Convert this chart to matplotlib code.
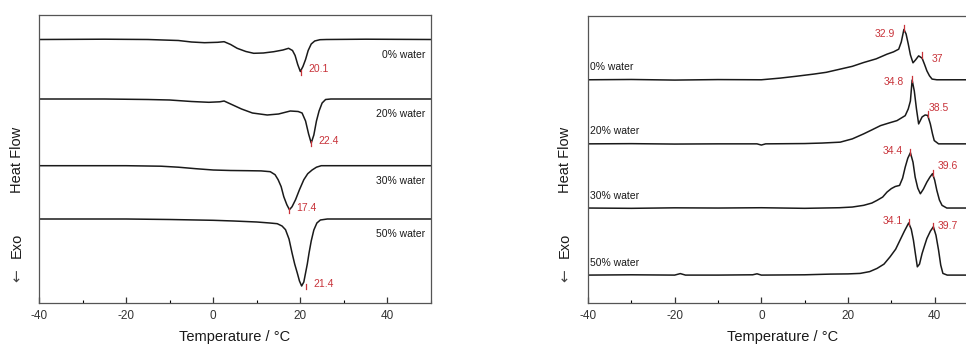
import matplotlib.pyplot as plt
from matplotlib.ticker import MultipleLocator

plt.rcParams['font.family'] = ['Liberation Sans', 'DejaVu Sans']
plt.rcParams['axes.unicode_minus'] = False

# ---- data (heat-flow traces, offsets from each trace's baseline) ----
labels = ["0% water", "20% water", "30% water", "50% water"]

# left panel: cooling, exothermic dips
L0_x = [-40, -25, -15, -8, -5, -2, 1, 2.5, 4, 5.5, 7.5, 9.3, 11.5, 13.9, 16, 17.3, 18.2, 18.8, 19.4, 20.0,
        20.6, 21.2, 21.8, 22.5, 23.3, 24.5, 26, 35, 50]
L0_y = [0, 0.3, 0, -1, -2.5, -3.2, -2.8, -2.2, -5, -8.8, -12, -13.8, -13.5, -12.2, -10.5, -8.8, -11, -16, -25, -32,
        -27, -20, -11, -4.5, -1.5, -0.2, 0, 0.3, 0]
L1_x = [-40, -25, -15, -10, -5, -1, 1.5, 2.5, 4.5, 6.5, 9, 12.4, 15, 17.7, 19.5, 20.4, 21.2, 21.9, 22.5, 23.1,
        23.7, 24.3, 25.0, 25.8, 27, 50]
L1_y = [0, 0, -0.5, -1, -2.5, -3.3, -2.8, -2, -6, -10, -14, -16, -15, -12, -12.5, -14, -22, -35, -44, -36,
        -22, -12, -4, -0.5, 0, 0]
L2_x = [-40, -20, -12, -8, -4, 0, 4, 8, 11, 13.1, 14.2, 14.9, 15.6, 16.2, 16.9, 17.5, 18.1, 18.9, 19.8, 20.8,
        21.7, 22.7, 23.7, 24.8, 50]
L2_y = [0, 0, -0.5, -1.5, -3, -4.3, -4.8, -5, -5.2, -6, -9, -14, -21, -31, -39, -44, -41, -34, -24, -14,
        -8, -4.3, -1.5, 0, 0]
L3_x = [-40, -20, -10, 0, 4.7, 10, 13, 14.7, 15.8, 16.6, 17.4, 18.1, 18.7, 19.3, 19.8, 20.3, 20.8, 21.2, 21.6,
        22.0, 22.5, 23.1, 23.8, 24.6, 26.2, 50]
L3_y = [0, 0, -0.5, -1.3, -2, -3, -4, -4.7, -7, -10.7, -20, -34, -45, -54, -62, -67, -63, -54, -45,
        -34, -22, -11, -4, -1, 0, 0]

# right panel: heating, endothermic peaks
R0_x = [-40, -30, -20, -10, 0, 4.4, 8, 12.1, 15, 18.2, 21, 23.6, 26.5, 29, 30.5, 31.7, 32.3, 32.9, 33.4, 33.9,
        34.4, 35.0, 35.6, 36.3, 37.1, 37.7, 38.2, 38.8, 39.4, 40.5, 50]
R0_y = [0, 0.3, -0.3, 0.2, 0, 1.7, 3.5, 5.7, 7.5, 10.7, 13.5, 17.3, 21, 25.7, 28, 30.7, 38, 50.5, 46, 36,
        25, 17, 20, 24, 21.7, 15, 9, 4, 0.7, 0, 0]
R1_x = [-40, -30, -20, -10, -1, 0, 1, 10, 14, 18.2, 21, 23.6, 25.5, 27.5, 29.5, 31.3, 33.2, 33.9, 34.4, 34.8,
        35.3, 35.8, 36.3, 37.1, 37.8, 38.4, 39.0, 39.5, 39.9, 40.9, 50]
R1_y = [0, 0.2, -0.2, 0, 0, -1.2, 0, 0.3, 0.8, 1.7, 5, 10, 14, 18.3, 21, 23.3, 28.3, 35, 43, 64,
        53, 35, 20, 27, 29, 28.5, 20, 10, 3.3, 0, 0]
R2_x = [-40, -30, -20, -10, 0, 10, 18, 21, 23.6, 25.5, 26.7, 28, 29, 30, 30.9, 31.9, 32.6, 33.2, 33.8, 34.4,
        35.0, 35.5, 36.1, 36.7, 37.4, 38.2, 38.9, 39.5, 40.0, 40.5, 41.1, 41.7, 42.8, 50]
R2_y = [0, -0.3, 0.2, 0, 0.3, -0.3, 0.3, 1, 2.7, 5, 7.7, 11, 16, 19.5, 21.6, 22.7, 30, 41, 50, 55.5,
        46, 31, 20, 14.3, 19, 26, 31, 34.5, 28, 17.7, 8, 2.7, 0, 0]
R3_x = [-40, -30, -20, -18.7, -17.5, -10, -2, -1, 0, 10, 16, 20, 22.8, 25, 26.7, 28.3, 29.7, 31, 32, 33, 34.0,
        34.6, 35.1, 35.6, 36.0, 36.5, 37.1, 37.7, 38.2, 39.0, 39.7, 40.3, 40.9, 41.4, 41.9, 42.9, 50]
R3_y = [0, 0.3, 0, 1.5, 0, 0, 0.3, 1.3, 0, 0.3, 1, 1.2, 1.7, 3.5, 6.7, 11, 18.3, 26, 35, 44, 52.3,
        46, 35, 20, 8.3, 11, 21.7, 30, 36.7, 44, 48.5, 40, 25, 10, 1.7, 0, 0]

left_x = [L0_x, L1_x, L2_x, L3_x]
left_y = [L0_y, L1_y, L2_y, L3_y]
right_x = [R0_x, R1_x, R2_x, R3_x]
right_y = [R0_y, R1_y, R2_y, R3_y]

left_peaks = [20.1, 22.4, 17.4, 21.4]
left_peak_depth = [-32, -44, -44, -67]
right_peaks = [[32.9, 37], [34.8, 38.5], [34.4, 39.6], [34.1, 39.7]]
right_peak_h = [[50.5, 24], [64, 29], [55.5, 34.5], [52.3, 48.5]]

left_base = [263.5, 204, 137.3, 84]
right_base = [224, 159.7, 95.3, 28]

red = '#c8333a'
ink = '#1a1a1a'

fig = plt.figure(figsize=(9.66, 3.45), dpi=100)
axL = fig.add_axes([39 / 966, 42 / 345, 392 / 966, 288 / 345])
axR = fig.add_axes([588 / 966, 42 / 345, 390 / 966, 287 / 345])

for ax in (axL, axR):
    ax.set_xlim(-40, 50)
    ax.set_ylim(0, 288)
    ax.set_yticks([])
    ax.xaxis.set_major_locator(MultipleLocator(20))
    ax.xaxis.set_minor_locator(MultipleLocator(10))
    ax.tick_params(axis='x', which='major', direction='in', length=4, width=0.9,
                   pad=5, labelsize=8.5, colors='#333333')
    ax.tick_params(axis='x', which='minor', direction='in', length=2.5, width=0.8)
    for s in ax.spines.values():
        s.set_color('#555555')
        s.set_linewidth(0.9)
    ax.set_xlabel('Temperature / °C', fontsize=10.5, color=ink, labelpad=6)

# left panel
for i in range(4):
    b = left_base[i]
    axL.plot(left_x[i], [b + v for v in left_y[i]], color=ink, lw=1.1)
    px, py = left_peaks[i], b + left_peak_depth[i]
    axL.plot([px, px], [py - 3, py + 2], color=red, lw=0.9)
    axL.text(px + 1.7, py + 2, f"{left_peaks[i]}", color=red, fontsize=7.5, va='center', ha='left')
    axL.text(48.7, b - 15, labels[i], color=ink, fontsize=7.5, ha='right', va='center')

# right panel
for i in range(4):
    b = right_base[i]
    axR.plot(right_x[i], [b + v for v in right_y[i]], color=ink, lw=1.1)
    for j in range(2):
        px, py = right_peaks[i][j], b + right_peak_h[i][j]
        axR.plot([px, px], [py - 2, py + 4], color=red, lw=0.9)
    axR.text(-39.5, b + 12.5, labels[i], color=ink, fontsize=7.5, ha='left', va='center')

r_text = [[(30.9, 270.3, 'right'), (39.2, 245, 'left')],
          [(33.0, 221.3, 'right'), (38.5, 195.7, 'left')],
          [(32.7, 153, 'right'), (40.6, 137, 'left')],
          [(32.7, 82, 'right'), (40.8, 77, 'left')]]
for i in range(4):
    for j in range(2):
        tx, ty, ha = r_text[i][j]
        val = right_peaks[i][j]
        axR.text(tx, ty, f"{val:g}", color=red, fontsize=7.5, ha=ha, va='center')

# y labels (two pieces, as in the original figure)
for xc in (17 / 966, 565 / 966):
    fig.text(xc, 1 - 160 / 345, 'Heat Flow', rotation=90, fontsize=10.5, color=ink,
             ha='center', va='center')
    fig.text(xc, 1 - 245 / 345, 'Exo', rotation=90, fontsize=10.5, color=ink,
             ha='center', va='center')
    fig.text(xc, 1 - 276 / 345, '←', rotation=90, fontsize=11, color='#444444',
             ha='center', va='center', family=['DejaVu Sans'])

fig.savefig('out.png', dpi=100)
